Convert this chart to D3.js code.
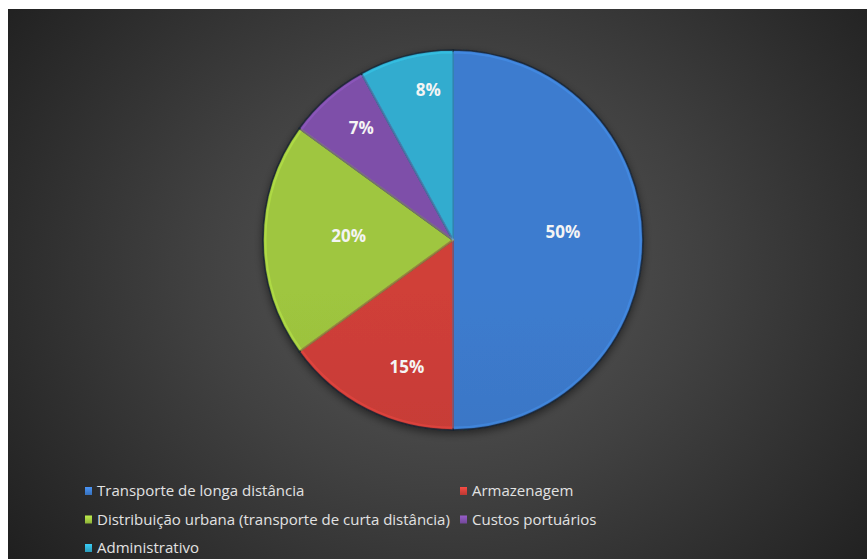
<!DOCTYPE html>
<html lang="pt">
<head>
<meta charset="utf-8">
<title>Custos logísticos</title>
<script src="https://d3js.org/d3.v7.min.js"></script>
<style>
  html,body{margin:0;background:#fff}
  svg{display:block}
  .pct{font-family:"Open Sans",sans-serif;font-weight:700;font-size:17px;fill:#f4f4f4}
  .leg{font-family:"Open Sans",sans-serif;font-size:15px;fill:#e2e2e2}
</style>
</head>
<body>
<svg id="chart" width="867" height="559"></svg>
<script>
// data
const categories = ["Transporte de longa distância","Armazenagem","Distribuição urbana (transporte de curta distância)","Custos portuários","Administrativo"];
const values = [50, 15, 20, 7, 8];
const colors = ["#3b78c8","#c93d37","#99bf3d","#7a4ca3","#2ea6c8"];

// layout
const W = 867, H = 559;
const cx = 453, cy = 240, r = 190;
// label placement tweaks (fraction of radius, angle shift in degrees)
const labelPlace = [[0.58,-4],[0.71,-7],[0.55,2],[0.76,2],[0.80,5]];

const svg = d3.select("#chart");
const defs = svg.append("defs");

const bg = defs.append("radialGradient").attr("id","bg")
  .attr("gradientUnits","userSpaceOnUse").attr("cx",450).attr("cy",270).attr("r",560)
  .attr("gradientTransform","translate(450,270) scale(1,0.85) translate(-450,-270)");
bg.append("stop").attr("offset",0).attr("stop-color","#5a5a5a");
bg.append("stop").attr("offset",0.45).attr("stop-color","#414141");
bg.append("stop").attr("offset",1).attr("stop-color","#1f1f1f");

svg.append("rect").attr("x",8).attr("y",9).attr("width",W-8).attr("height",H-9).attr("fill","url(#bg)");

colors.forEach((c,i)=>{
  const g = defs.append("linearGradient").attr("id","g"+i)
    .attr("gradientUnits","userSpaceOnUse").attr("x1",0).attr("y1",cy-r).attr("x2",0).attr("y2",cy+r);
  g.append("stop").attr("offset",0).attr("stop-color",d3.color(c).brighter(0.1));
  g.append("stop").attr("offset",1).attr("stop-color",d3.color(c).darker(0.25));
});

const shadow = defs.append("filter").attr("id","sh").attr("x","-20%").attr("y","-20%").attr("width","140%").attr("height","140%");
shadow.append("feGaussianBlur").attr("in","SourceAlpha").attr("stdDeviation",4);
shadow.append("feOffset").attr("dx",0).attr("dy",3).attr("result","b");
shadow.append("feComponentTransfer").append("feFuncA").attr("type","linear").attr("slope",0.5);
const mg = shadow.append("feMerge");
mg.append("feMergeNode");
mg.append("feMergeNode").attr("in","SourceGraphic");

const pie = d3.pie().sort(null).value(d=>d);
const arcs = pie(values);
const arc = d3.arc().innerRadius(0).outerRadius(r);
const arcIn = d3.arc().innerRadius(0).outerRadius(r-2.5);

const g = svg.append("g").attr("transform",`translate(${cx},${cy})`);
const gp = g.append("g").attr("filter","url(#sh)");

gp.selectAll("path.slice").data(arcs).enter().append("path")
  .attr("class","slice")
  .attr("d",arc)
  .attr("fill",(d,i)=>"url(#g"+i+")")
  .attr("stroke","#16222f").attr("stroke-opacity",0.8).attr("stroke-width",1.6);

// soft bevel highlight along each slice edge
gp.selectAll("path.bevel").data(arcs).enter().append("path")
  .attr("class","bevel")
  .attr("d",arcIn)
  .attr("fill","none")
  .attr("stroke",(d,i)=>d3.color(colors[i]).brighter(0.8))
  .attr("stroke-opacity",0.35).attr("stroke-width",2);

g.selectAll("text.pct").data(arcs).enter().append("text")
  .attr("class","pct")
  .attr("text-anchor","middle").attr("dy","0.35em")
  .attr("x",(d,i)=>{const a=(d.startAngle+d.endAngle)/2+labelPlace[i][1]*Math.PI/180;return Math.sin(a)*r*labelPlace[i][0];})
  .attr("y",(d,i)=>{const a=(d.startAngle+d.endAngle)/2+labelPlace[i][1]*Math.PI/180;return -Math.cos(a)*r*labelPlace[i][0];})
  .text(d=>Math.round(d.data)+"%");

// legend
const rowY = [491, 519.5, 548];
const colX = [85, 460];
const leg = svg.append("g");
const rows = [[0,1],[2,3],[4]];
rows.forEach((row,ri)=>{
  let x = colX[0];
  row.forEach((k,ci)=>{
    if(ci>0) x = Math.max(colX[1], x+3);
    const y = rowY[ri];
    const sg = defs.append("linearGradient").attr("id","lg"+k).attr("x1",0).attr("y1",0).attr("x2",0).attr("y2",1);
    sg.append("stop").attr("offset",0).attr("stop-color",d3.color(colors[k]).brighter(0.6));
    sg.append("stop").attr("offset",1).attr("stop-color",d3.color(colors[k]).darker(0.2));
    leg.append("rect").attr("x",x).attr("y",y-4).attr("width",7).attr("height",8).attr("fill","url(#lg"+k+")");
    const t = leg.append("text").attr("class","leg").attr("x",x+12).attr("y",y).attr("dy","0.35em").text(categories[k]);
    x = x+12+t.node().getComputedTextLength();
  });
});
</script>
</body>
</html>
